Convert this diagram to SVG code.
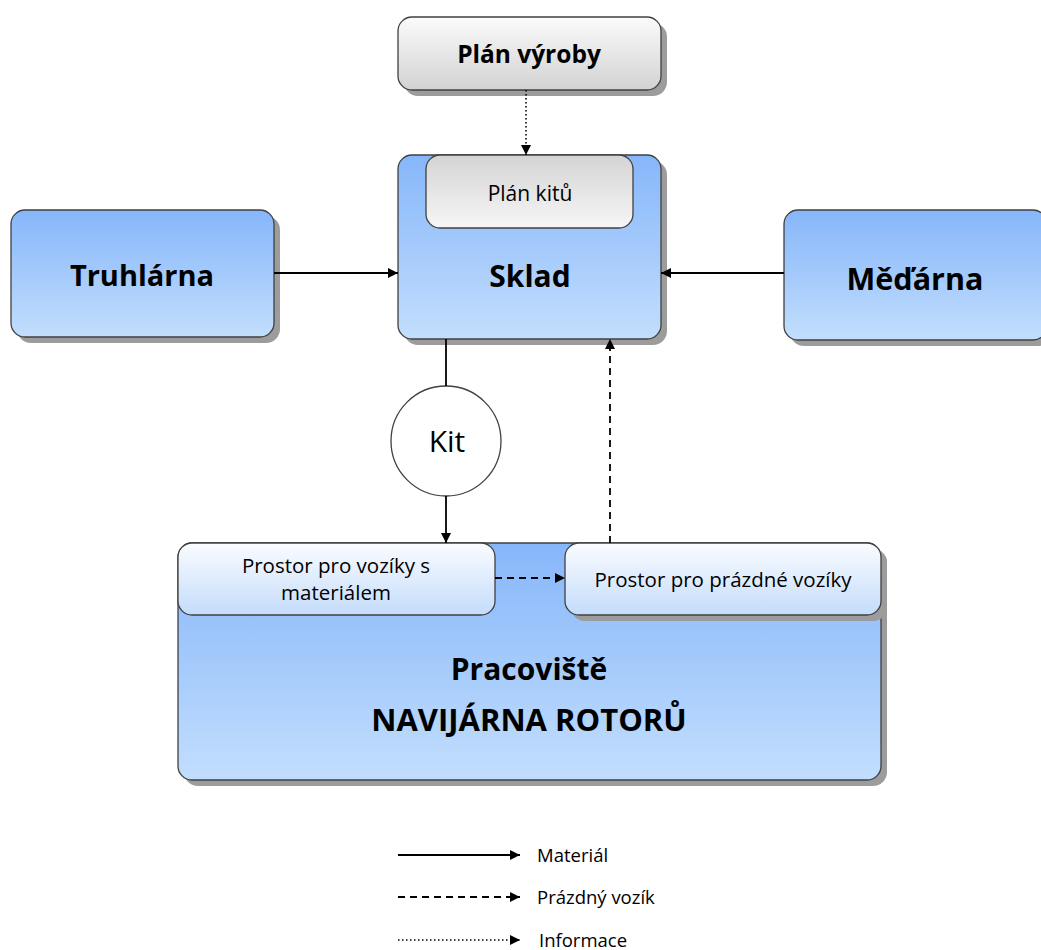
<svg xmlns="http://www.w3.org/2000/svg" width="1041" height="950" viewBox="0 0 1041 950">
  <style>
    .box { stroke: #404040; stroke-width: 1.3; }
    .shadow { fill: #9c9c9c; }
    .t { font-family: "Open Sans", "Liberation Sans", sans-serif; fill: #000; text-anchor: middle; }
    .b { font-weight: bold; }
    .lg { font-family: "Open Sans", "Liberation Sans", sans-serif; font-size: 18.5px; fill: #000; }
    .solid { stroke: #000; stroke-width: 1.8; fill: none; }
    .dash { stroke: #000; stroke-width: 1.8; fill: none; stroke-dasharray: 7 5; }
    .dot { stroke: #000; stroke-width: 1.6; fill: none; stroke-dasharray: 1.5 2.5; }
  </style>
  <defs>
    <linearGradient id="blue" x1="0" y1="0" x2="0" y2="1">
      <stop offset="0" stop-color="#86b6fa"/>
      <stop offset="1" stop-color="#c2defd"/>
    </linearGradient>
    <linearGradient id="grayDown" x1="0" y1="0" x2="0" y2="1">
      <stop offset="0" stop-color="#fbfbfb"/>
      <stop offset="1" stop-color="#d2d2d2"/>
    </linearGradient>
    <linearGradient id="grayUp" x1="0" y1="0" x2="0" y2="1">
      <stop offset="0" stop-color="#d4d4d4"/>
      <stop offset="1" stop-color="#f6f6f6"/>
    </linearGradient>
    <linearGradient id="pale" x1="0" y1="0" x2="0" y2="1">
      <stop offset="0" stop-color="#fafcff"/>
      <stop offset="1" stop-color="#c4dcfb"/>
    </linearGradient>
    <marker id="arrB" viewBox="0 0 10 10" refX="10" refY="5" markerWidth="10" markerHeight="10" markerUnits="userSpaceOnUse" orient="auto">
      <path d="M0,0 L10,5 L0,10 z" fill="#000"/>
    </marker>
  </defs>

  <!-- production plan -->
  <g id="plan-vyroby">
    <rect class="shadow" x="404" y="23" width="263" height="73" rx="14"/>
    <rect class="box" x="398" y="17" width="263" height="73" rx="14" fill="url(#grayDown)"/>
    <text class="t b" x="529" y="63" font-size="24.5">Plán výroby</text>
  </g>

  <!-- warehouse with kit plan -->
  <g id="sklad">
    <rect class="shadow" x="404" y="161" width="263" height="184" rx="14"/>
    <rect class="box" x="398" y="155" width="263" height="184" rx="14" fill="url(#blue)"/>
    <rect class="box" x="426" y="155" width="207" height="73" rx="14" fill="url(#grayUp)"/>
    <text class="t" x="530" y="201" font-size="21">Plán kitů</text>
    <text class="t b" x="530" y="287" font-size="30">Sklad</text>
  </g>

  <g id="truhlarna">
    <rect class="shadow" x="17" y="216" width="263" height="127" rx="14"/>
    <rect class="box" x="11" y="210" width="263" height="127" rx="14" fill="url(#blue)"/>
    <text class="t b" x="142" y="286" font-size="29">Truhlárna</text>
  </g>

  <g id="medarna">
    <rect class="shadow" x="790" y="216" width="263" height="130" rx="14"/>
    <rect class="box" x="784" y="210" width="263" height="130" rx="14" fill="url(#blue)"/>
    <text class="t b" x="915" y="290" font-size="30.5">Měďárna</text>
  </g>

  <g id="kit">
    <circle cx="446" cy="441" r="55" fill="#fff" stroke="#404040" stroke-width="1.3"/>
    <text class="t" x="447" y="452" font-size="30">Kit</text>
  </g>

  <!-- workplace with its two cart areas -->
  <g id="pracoviste">
    <rect class="shadow" x="184" y="549" width="703" height="237" rx="14"/>
    <rect class="box" x="178" y="543" width="703" height="237" rx="14" fill="url(#blue)"/>
    <text class="t b" x="529" y="680" font-size="30">Pracoviště</text>
    <text class="t b" x="529" y="731" font-size="31">NAVIJÁRNA ROTORŮ</text>
  </g>

  <g id="prostor-material">
    <rect class="box" x="178" y="543" width="317" height="72" rx="14" fill="url(#pale)"/>
    <text class="t" x="336" y="573" font-size="20.5">Prostor pro vozíky s</text>
    <text class="t" x="336" y="600" font-size="20.5">materiálem</text>
  </g>

  <g id="prostor-prazdne">
    <rect class="shadow" x="571" y="549" width="316" height="72" rx="14"/>
    <rect class="box" x="565" y="543" width="316" height="72" rx="14" fill="url(#pale)"/>
    <text class="t" x="723" y="587" font-size="20.5">Prostor pro prázdné vozíky</text>
  </g>

  <g id="connectors">
    <line class="dot" x1="526" y1="90" x2="526" y2="155" marker-end="url(#arrB)"/>
    <line class="solid" x1="274" y1="273" x2="398" y2="273" marker-end="url(#arrB)"/>
    <line class="solid" x1="784" y1="273" x2="661" y2="273" marker-end="url(#arrB)"/>
    <line class="solid" x1="446" y1="339" x2="446" y2="386"/>
    <line class="solid" x1="446" y1="496" x2="446" y2="543" marker-end="url(#arrB)"/>
    <line class="dash" x1="610" y1="543" x2="610" y2="339" marker-end="url(#arrB)"/>
    <line class="dash" x1="495" y1="578" x2="565" y2="578" marker-end="url(#arrB)"/>
  </g>

  <g id="legend">
    <line class="solid" x1="398" y1="855" x2="520" y2="855" marker-end="url(#arrB)"/>
    <text class="lg" x="537" y="862">Materiál</text>
    <line class="dash" x1="398" y1="897" x2="520" y2="897" marker-end="url(#arrB)"/>
    <text class="lg" x="537" y="904">Prázdný vozík</text>
    <line class="dot" x1="398" y1="940" x2="520" y2="940" marker-end="url(#arrB)"/>
    <text class="lg" x="539" y="947">Informace</text>
  </g>
</svg>
